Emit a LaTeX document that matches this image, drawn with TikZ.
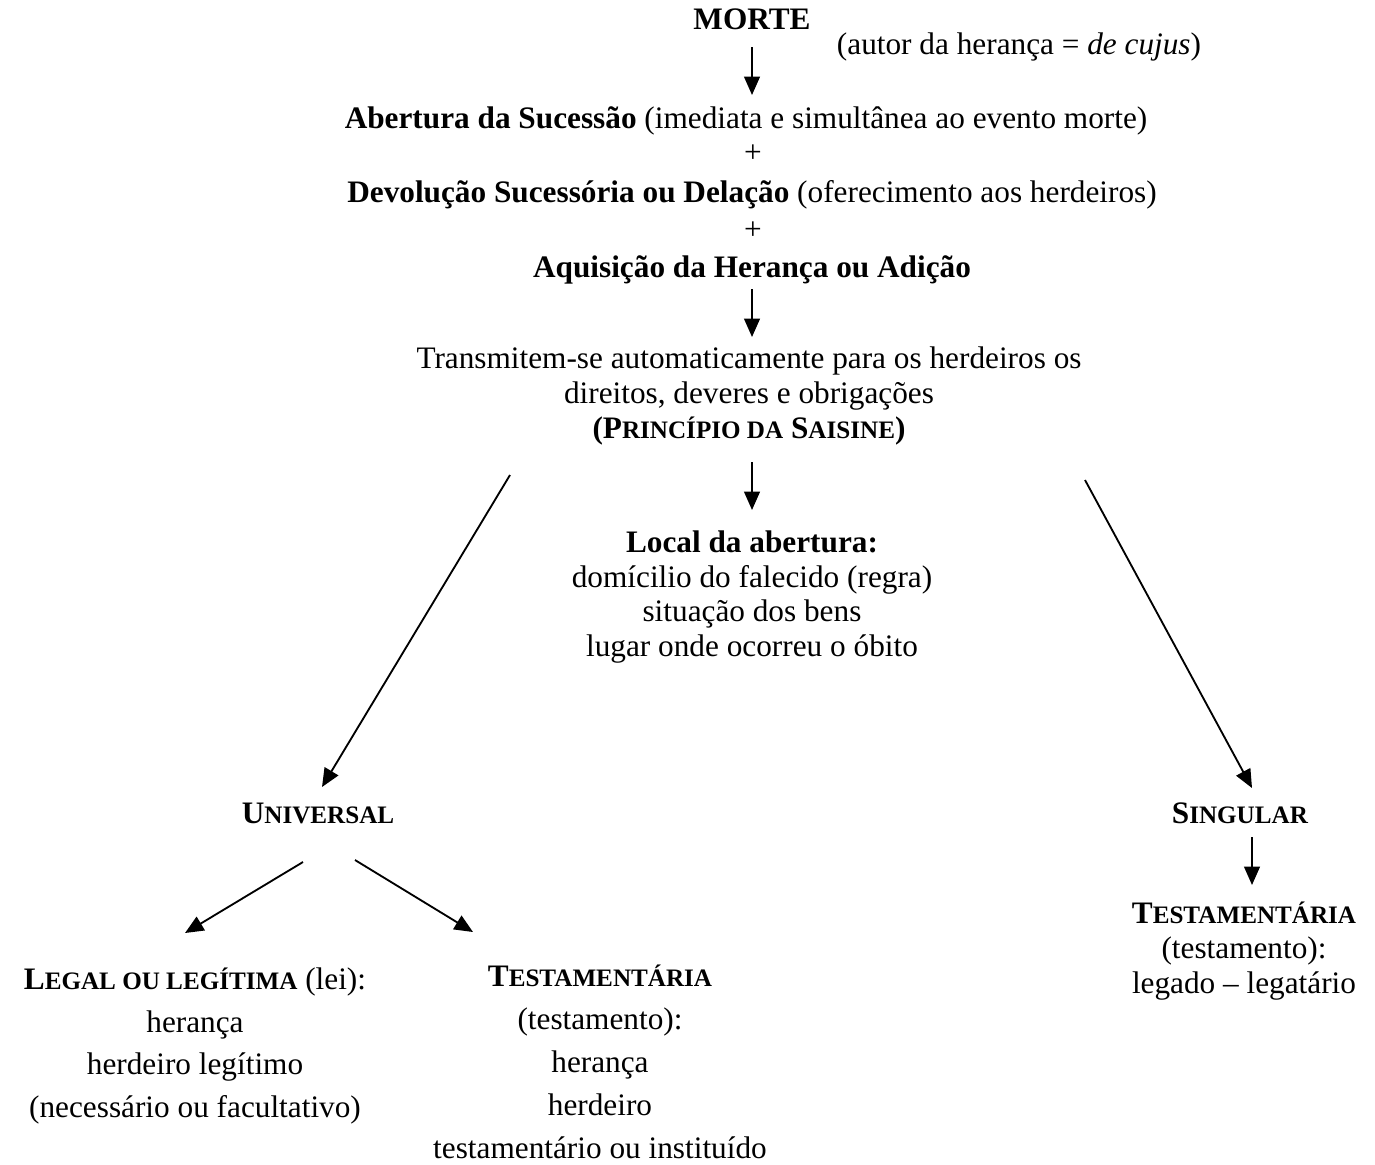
\documentclass[tikz,border=0pt]{standalone}
\usepackage{fontspec}
\setmainfont{Liberation Serif}
\usetikzlibrary{arrows.meta}
\newcommand\bodyfont{\fontsize{17.8}{19.8}\selectfont}
\newcommand\loosefont{\fontsize{17.8}{24.4}\selectfont}
% hand-made small capitals: the lower part is set in smaller capitals
\newcommand\smc[1]{{\fontsize{14.3}{14.3}\selectfont #1}}
\tikzset{
  txt/.style={inner sep=0pt, align=center, font=\bodyfont},
  loose/.style={inner sep=0pt, align=center, font=\loosefont},
  arr/.style={line width=1.05pt, -{Triangle[length=10.5pt,width=9pt]}}
}
\begin{document}
\begin{tikzpicture}[x=0.02cm, y=-0.02cm]
\useasboundingbox (0,0) rectangle (1375,1164);

% chain of events
\node[txt] (morte) at (752,19) {\textbf{MORTE}};
\node[txt] (autor) at (1019,47) {(autor da herança = \textit{de cujus})};
\node[txt] (abertura) at (746,121) {\textbf{Abertura da Sucessão} (imediata e simultânea ao evento morte)};
\node[txt] (plusa) at (753,154) {+};
\node[txt] (devol) at (752,195) {\textbf{Devolução Sucessória ou Delação} (oferecimento aos herdeiros)};
\node[txt] (plusb) at (753,231) {+};
\node[txt] (aquis) at (752,270) {\textbf{Aquisição da Herança ou Adição}};
\node[txt] (trans) at (749,396) {Transmitem-se automaticamente para os herdeiros os\\direitos, deveres e obrigações\\\textbf{(P\smc{RINCÍPIO DA} S\smc{AISINE})}};
\node[txt] (local) at (752,597) {\textbf{Local da abertura:}\\domícilio do falecido (regra)\\situação dos bens\\lugar onde ocorreu o óbito};

% kinds of succession
\node[txt] (univ) at (318,813) {\textbf{U\smc{NIVERSAL}}};
\node[txt] (sing) at (1240,813) {\textbf{S\smc{INGULAR}}};
\node[loose] (legal) at (195,1046) {\textbf{L\smc{EGAL OU LEGÍTIMA}} (lei):\\herança\\herdeiro legítimo\\(necessário ou facultativo)};
\node[loose] (testm) at (600,1062) {\textbf{T\smc{ESTAMENTÁRIA}}\\(testamento):\\herança\\herdeiro\\testamentário ou instituído};
\node[txt] (testr) at (1244,951) {\textbf{T\smc{ESTAMENTÁRIA}}\\(testamento):\\legado – legatário};

% connector ends
\coordinate (a1s) at (752,47);  \coordinate (a1e) at (752,95);
\coordinate (a2s) at (752,289); \coordinate (a2e) at (752,337);
\coordinate (a3s) at (752,462); \coordinate (a3e) at (752,510);
\coordinate (dls) at (510,475); \coordinate (dle) at (322,787);
\coordinate (drs) at (1085,480); \coordinate (dre) at (1252,788);
\coordinate (uls) at (303,862); \coordinate (ule) at (185,933);
\coordinate (urs) at (355,860); \coordinate (ure) at (473,932);
\coordinate (ss) at (1252,837); \coordinate (se) at (1252,885);

\draw[arr] (a1s) -- (a1e);
\draw[arr] (a2s) -- (a2e);
\draw[arr] (a3s) -- (a3e);
\draw[arr] (dls) -- (dle);
\draw[arr] (drs) -- (dre);
\draw[arr] (uls) -- (ule);
\draw[arr] (urs) -- (ure);
\draw[arr] (ss) -- (se);
\end{tikzpicture}
\end{document}
